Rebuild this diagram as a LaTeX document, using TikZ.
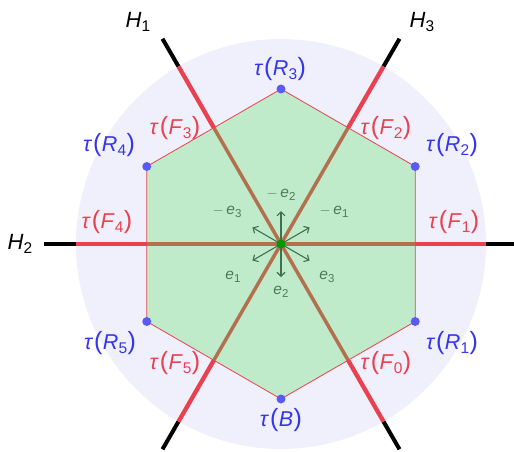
\documentclass[tikz,border=0pt]{standalone}
\usepackage{fontspec}
\setmainfont{Liberation Sans}
\usetikzlibrary{arrows.meta}
\definecolor{bgc}{HTML}{F0F0FD}
\definecolor{hexg}{HTML}{C0EBCB}
\definecolor{redc}{HTML}{E8414F}
\definecolor{brownc}{HTML}{B3704F}
\definecolor{bluet}{HTML}{3535EE}
\definecolor{blued}{HTML}{5A5AF5}
\definecolor{arrg}{HTML}{3F7050}
\definecolor{labg}{HTML}{4E7A5C}
\definecolor{dotg}{HTML}{009A00}
\newcommand{\bp}[1]{{\fontsize{25}{25}\selectfont\raisebox{0.4pt}{#1}}}
\newcommand{\bsub}[1]{\raisebox{-4pt}{\fontsize{15.5}{15}\selectfont #1}}
\newcommand{\tl}[2]{\textit{τ}\kern1pt\bp{(}\kern0.5pt\textit{#1}\bsub{#2}\kern0.5pt\bp{)}}
\newcommand{\esub}[1]{\raisebox{-3pt}{\fontsize{11.5}{11}\selectfont #1}}
\begin{document}
\begin{tikzpicture}[x=1pt,y=1pt,
  biglab/.style={font=\fontsize{21.5}{24}\selectfont, inner sep=0pt},
  bluelab/.style={biglab, text=bluet},
  redlab/.style={biglab, text=redc},
  hlab/.style={font=\fontsize{22}{24}\selectfont, inner sep=0pt, text=black},
  elab/.style={font=\fontsize{15.5}{16}\selectfont, inner sep=0pt, text=labg},
  blackpart/.style={line width=4pt, black},
  redpart/.style={line width=4.3pt, redc},
  brownpart/.style={line width=3.5pt, brownc},
  evec/.style={line width=1.1pt, arrg, -{Straight Barb[length=4pt,width=8pt]}},
  vdot/.style={circle, fill=blued, inner sep=0pt, minimum size=9pt},
]
\useasboundingbox (-281,-207) rectangle (233,244);
\fill[bgc] (0,0) circle (205);
\coordinate (O) at (0,0);
\foreach \i/\a in {B/270,R1/330,R2/30,R3/90,R4/150,R5/210} {
  \coordinate (\i) at (\a:155);
}
\fill[hexg] (B) -- (R1) -- (R2) -- (R3) -- (R4) -- (R5) -- cycle;
\draw[redc, line width=0.8pt] (B) -- (R1) -- (R2) -- (R3) -- (R4) -- (R5) -- cycle;
\foreach \a in {0,60,...,300} {
  \coordinate (m\a) at (\a:134.2);
  \coordinate (c\a) at (\a:205);
  \coordinate (e\a) at (\a:237);
  \draw[blackpart] (c\a) -- (e\a);
  \draw[redpart] (m\a) -- (c\a);
  \draw[brownpart] (O) -- (m\a);
}
\foreach \a in {30,90,150,210,270,330} {
  \coordinate (t\a) at (\a:33);
  \draw[evec] (O) -- (t\a);
}
\node[circle, fill=dotg, inner sep=0pt, minimum size=9pt] (ctr) at (O) {};
\foreach \i in {B,R1,R2,R3,R4,R5} { \node[vdot] (d\i) at (\i) {}; }
% H labels
\node[hlab] (h1) at (-143,222) {\textit{H}\bsub{1}};
\node[hlab] (h3) at (141,222) {\textit{H}\bsub{3}};
\node[hlab] (h2) at (-261,0) {\textit{H}\bsub{2}};
% R labels
\node[bluelab] (lR3) at (-1,175) {\tl{R}{3}};
\node[bluelab] (lR2) at (171,99) {\tl{R}{2}};
\node[bluelab] (lR4) at (-172,99) {\tl{R}{4}};
\node[bluelab] (lR5) at (-171,-99) {\tl{R}{5}};
\node[bluelab] (lR1) at (171,-99) {\tl{R}{1}};
\node[bluelab] (lB) at (0,-176) {\textit{τ}\kern1pt\bp{(}\kern0.5pt\textit{B}\kern0.5pt\bp{)}};
% F labels
\node[redlab] (lF3) at (-106,116) {\tl{F}{3}};
\node[redlab] (lF2) at (105,116) {\tl{F}{2}};
\node[redlab] (lF4) at (-174,22) {\tl{F}{4}};
\node[redlab] (lF1) at (173,22) {\tl{F}{1}};
\node[redlab] (lF5) at (-106,-119) {\tl{F}{5}};
\node[redlab] (lF0) at (105,-119) {\tl{F}{0}};
% e labels
\node[elab] (le2m) at (0,49) {$-$\,\textit{e}\esub{2}};
\node[elab] (le3m) at (-54,32) {$-$\,\textit{e}\esub{3}};
\node[elab] (le1m) at (53,32) {$-$\,\textit{e}\esub{1}};
\node[elab] (le1) at (-48,-33) {\textit{e}\esub{1}};
\node[elab] (le3) at (46,-33) {\textit{e}\esub{3}};
\node[elab] (le2) at (0,-48) {\textit{e}\esub{2}};
\end{tikzpicture}
\end{document}
